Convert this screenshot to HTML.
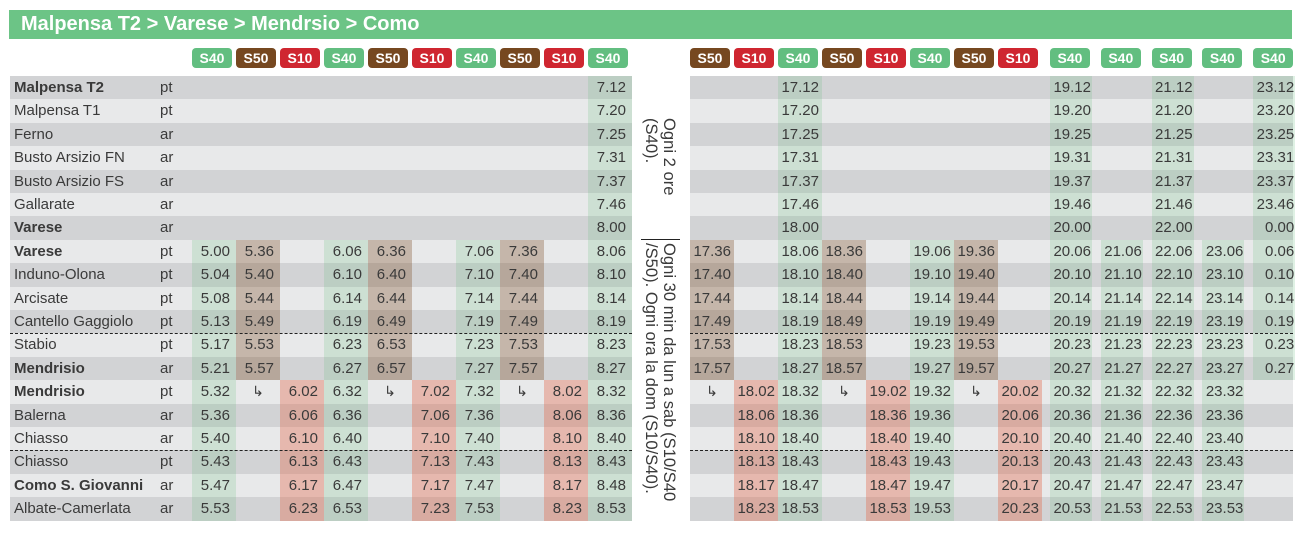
<!DOCTYPE html>
<html><head><meta charset="utf-8">
<style>
body{margin:0;width:1304px;height:543px;background:#fff;position:relative;overflow:hidden;font-family:"Liberation Sans",sans-serif;}
.a{position:absolute;box-sizing:border-box;}
.title{left:9px;top:10px;width:1283px;height:29px;background:#6cc486;color:#fff;font-weight:bold;font-size:20px;line-height:29px;padding-left:12px;}
.badge{height:20px;width:40px;border-radius:4px;color:#fff;font-weight:bold;font-size:14px;line-height:20px;text-align:center;}
.S40{background:#62be80}.S50{background:#764820}.S10{background:#cf2630}
.row{height:23.4px;}
.cell{font-size:15px;color:#3a3a3a;line-height:23.4px;text-align:right;white-space:nowrap;}
.st{font-size:15px;color:#3a3a3a;line-height:23.4px;white-space:nowrap;}
.dash{height:0;border-top:1.3px dashed #222;}
.note{writing-mode:vertical-rl;font-size:16.6px;color:#3a3a3a;line-height:18px;white-space:nowrap;}
</style></head><body>
<div class="a title">Malpensa T2 &gt; Varese &gt; Mendrsio &gt; Como</div>
<div id="root"></div>
<div class="a note" style="left:642px;top:118px;">Ogni 2 ore<br>(S40).</div>
<div class="a" style="left:641px;top:239px;width:39px;height:1px;background:#222;"></div>
<div class="a note" style="left:642px;top:243px;">Ogni 30 min da lun a sab (S10/S40<br>/S50). Ogni ora la dom (S10/S40).</div>
<script>
const stations=["Malpensa T2","Malpensa T1","Ferno","Busto Arsizio FN","Busto Arsizio FS","Gallarate","Varese","Varese","Induno-Olona","Arcisate","Cantello Gaggiolo","Stabio","Mendrisio","Mendrisio","Balerna","Chiasso","Chiasso","Como S. Giovanni","Albate-Camerlata"];
const boldRows=[0,6,7,12,13,17];
const ptar=["pt","pt","ar","ar","ar","ar","ar","pt","pt","pt","pt","pt","ar","pt","ar","ar","pt","ar","ar"];
const A="↳",_=null;
const leftLines=["S40","S50","S10","S40","S50","S10","S40","S50","S10","S40"];
const leftTimes=[
[_,_,_,_,_,_,_,"5.00","5.04","5.08","5.13","5.17","5.21","5.32","5.36","5.40","5.43","5.47","5.53"],
[_,_,_,_,_,_,_,"5.36","5.40","5.44","5.49","5.53","5.57",A,_,_,_,_,_],
[_,_,_,_,_,_,_,_,_,_,_,_,_,"6.02","6.06","6.10","6.13","6.17","6.23"],
[_,_,_,_,_,_,_,"6.06","6.10","6.14","6.19","6.23","6.27","6.32","6.36","6.40","6.43","6.47","6.53"],
[_,_,_,_,_,_,_,"6.36","6.40","6.44","6.49","6.53","6.57",A,_,_,_,_,_],
[_,_,_,_,_,_,_,_,_,_,_,_,_,"7.02","7.06","7.10","7.13","7.17","7.23"],
[_,_,_,_,_,_,_,"7.06","7.10","7.14","7.19","7.23","7.27","7.32","7.36","7.40","7.43","7.47","7.53"],
[_,_,_,_,_,_,_,"7.36","7.40","7.44","7.49","7.53","7.57",A,_,_,_,_,_],
[_,_,_,_,_,_,_,_,_,_,_,_,_,"8.02","8.06","8.10","8.13","8.17","8.23"],
["7.12","7.20","7.25","7.31","7.37","7.46","8.00","8.06","8.10","8.14","8.19","8.23","8.27","8.32","8.36","8.40","8.43","8.48","8.53"]
];
const rightLines=["S50","S10","S40","S50","S10","S40","S50","S10","S40","S40","S40","S40","S40"];
const rightTimes=[
[_,_,_,_,_,_,_,"17.36","17.40","17.44","17.49","17.53","17.57",A,_,_,_,_,_],
[_,_,_,_,_,_,_,_,_,_,_,_,_,"18.02","18.06","18.10","18.13","18.17","18.23"],
["17.12","17.20","17.25","17.31","17.37","17.46","18.00","18.06","18.10","18.14","18.19","18.23","18.27","18.32","18.36","18.40","18.43","18.47","18.53"],
[_,_,_,_,_,_,_,"18.36","18.40","18.44","18.49","18.53","18.57",A,_,_,_,_,_],
[_,_,_,_,_,_,_,_,_,_,_,_,_,"19.02","18.36","18.40","18.43","18.47","18.53"],
[_,_,_,_,_,_,_,"19.06","19.10","19.14","19.19","19.23","19.27","19.32","19.36","19.40","19.43","19.47","19.53"],
[_,_,_,_,_,_,_,"19.36","19.40","19.44","19.49","19.53","19.57",A,_,_,_,_,_],
[_,_,_,_,_,_,_,_,_,_,_,_,_,"20.02","20.06","20.10","20.13","20.17","20.23"],
["19.12","19.20","19.25","19.31","19.37","19.46","20.00","20.06","20.10","20.14","20.19","20.23","20.27","20.32","20.36","20.40","20.43","20.47","20.53"],
[_,_,_,_,_,_,_,"21.06","21.10","21.14","21.19","21.23","21.27","21.32","21.36","21.40","21.43","21.47","21.53"],
["21.12","21.20","21.25","21.31","21.37","21.46","22.00","22.06","22.10","22.14","22.19","22.23","22.27","22.32","22.36","22.40","22.43","22.47","22.53"],
[_,_,_,_,_,_,_,"23.06","23.10","23.14","23.19","23.23","23.27","23.32","23.36","23.40","23.43","23.47","23.53"],
["23.12","23.20","23.25","23.31","23.37","23.46","0.00","0.06","0.10","0.14","0.19","0.23","0.27",_,_,_,_,_,_]
];
const dashAfter=[10,15];
const root=document.getElementById('root');
const T=76,H=23.4;
const tint={S40:"rgba(110,190,130,0.22)",S50:"rgba(125,75,35,0.32)",S10:"rgba(225,105,75,0.38)"};
function mk(cls,x,y,w,h,txt,style){const d=document.createElement('div');d.className='a '+cls;d.style.left=x+'px';d.style.top=y+'px';if(w!=null)d.style.width=w+'px';if(h!=null)d.style.height=h+'px';if(txt!=null)d.textContent=txt;if(style)d.style.cssText+=style;root.appendChild(d);return d;}
stations.forEach((s,i)=>{
 const bg=i%2==0?"#d2d3d5":"#e8e9ea";
 let r=mk('row',10,T+i*H,622,H,null,'background:'+bg);
 
 
 r=mk('row',690,T+i*H,603,H,null,'background:'+bg);
 
 
 let n=mk('st',14,T+i*H,145,H,s,boldRows.includes(i)?'font-weight:bold':'');
 
 
 let p=mk('st',160,T+i*H,30,H,ptar[i]);
 
 
});
function column(x,w,line,times,pad){
 let b=mk('badge '+line,x,48,40,20,line);
 
 
 times.forEach((t,i)=>{
  if(t==null)return;
  const isA=t===A;
  let c=mk('cell',x,T+i*H,w,H,t,(isA?'text-align:center;font-size:14px;':'padding-right:'+pad+'px;')+(isA?'':'background:'+tint[line]));
  
  
 });
}
leftTimes.forEach((t,k)=>column(192+44*k,44,leftLines[k],t,6));
rightTimes.forEach((t,k)=>{
 const x=k<8?690+44*k:1050+50.8*(k-8);
 const w=k<8?44:42;
 column(x,w,rightLines[k],t,k<8?3:1);
});
dashAfter.forEach(i=>{
 let d=mk('dash',10,T+(i+1)*H-0.5,622,null);
 
 
 d=mk('dash',690,T+(i+1)*H-0.5,603,null);
 
 
});
</script>
</body></html>
